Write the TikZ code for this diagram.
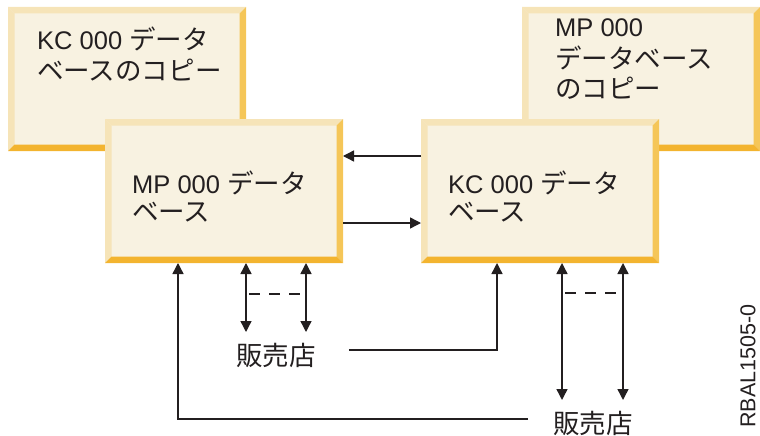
\documentclass[tikz,border=0pt]{standalone}
\usepackage{fontspec}
\setmainfont{Liberation Sans}
\newfontfamily\jpfont[Scale=1.04]{Noto Sans CJK JP}
\usetikzlibrary{arrows.meta,calc}
\definecolor{boxfill}{HTML}{F8F2E1}
\definecolor{bevlight}{HTML}{F6E4B8}
\definecolor{bevright}{HTML}{F5C658}
\definecolor{bevbottom}{HTML}{F3B42F}
\definecolor{ink}{HTML}{231F20}
\newcommand\myfs{\fontsize{25.5}{28.5}\selectfont}
\newcommand\bvw{6.5pt}
\tikzset{
  dbbox/.style={rectangle, inner sep=0pt, outer sep=0pt, anchor=north west,
    fill=boxfill, minimum width=238pt, minimum height=144pt,
    path picture={
      \fill[bevlight] (path picture bounding box.north west) -- (path picture bounding box.north east)
        -- ([shift={(-\bvw,-\bvw)}]path picture bounding box.north east)
        -- ([shift={(\bvw,-\bvw)}]path picture bounding box.north west) -- cycle;
      \fill[bevlight] (path picture bounding box.north west) -- (path picture bounding box.south west)
        -- ([shift={(\bvw,\bvw)}]path picture bounding box.south west)
        -- ([shift={(\bvw,-\bvw)}]path picture bounding box.north west) -- cycle;
      \fill[bevright] (path picture bounding box.north east) -- (path picture bounding box.south east)
        -- ([shift={(-\bvw,\bvw)}]path picture bounding box.south east)
        -- ([shift={(-\bvw,-\bvw)}]path picture bounding box.north east) -- cycle;
      \fill[bevbottom] (path picture bounding box.south west) -- (path picture bounding box.south east)
        -- ([shift={(-\bvw,\bvw)}]path picture bounding box.south east)
        -- ([shift={(\bvw,\bvw)}]path picture bounding box.south west) -- cycle;
    }},
  boxtext/.style={font=\myfs, inner sep=0pt, anchor=base west, text=ink},
  shoptext/.style={font=\myfs\jpfont, inner sep=0pt, text=ink},
  arr/.style={draw=ink, line width=1.4pt, -{Triangle[length=11pt,width=11pt]}},
  darr/.style={draw=ink, line width=1.4pt, {Triangle[length=11pt,width=11pt]}-{Triangle[length=11pt,width=11pt]}},
  dsh/.style={draw=ink, line width=1.4pt, dash pattern=on 10.5pt off 9.5pt},
}
\begin{document}
\begin{tikzpicture}[x=1pt,y=-1pt]
\useasboundingbox (0,0) rectangle (760,436);
% boxes
\node[dbbox] (b1) at (8,7) {};
\node[boxtext] (t1) at (37,50) {\begin{tabular}[t]{@{}l@{}}KC 000 {\jpfont データ}\\{\jpfont ベースのコピー}\end{tabular}};
\node[dbbox] (b2) at (522,7) {};
\node[boxtext] (t2) at (555,37) {\begin{tabular}[t]{@{}l@{}}MP 000\\{\jpfont データベース}\\{\jpfont のコピー}\end{tabular}};
\node[dbbox] (b3) at (105,119) {};
\node[boxtext] (t3) at (132,193) {\begin{tabular}[t]{@{}l@{}}MP 000 {\jpfont データ}\\{\jpfont ベース}\end{tabular}};
\node[dbbox] (b4) at (421,119) {};
\node[boxtext] (t4) at (448,193) {\begin{tabular}[t]{@{}l@{}}KC 000 {\jpfont データ}\\{\jpfont ベース}\end{tabular}};
% labels
\node[shoptext] (s1) at (276,355) {販売店};
\node[shoptext] (s2) at (593,423) {販売店};
\node[rotate=90, font=\fontsize{21.5}{26}\selectfont, inner sep=0pt, text=ink] (rb) at (748,366) {RBAL1505-0};
% replication arrows
\draw[arr] ([yshift=35pt]b4.west) -- ([yshift=35pt]b3.east);
\draw[arr] ([yshift=-32pt]b3.east) -- ([yshift=-32pt]b4.west);
% store connections
\coordinate (e1) at (246,332);
\coordinate (e2) at (306,332);
\coordinate (e3) at (562,400);
\coordinate (e4) at (623,400);
\draw[darr] ([xshift=141pt]b3.south west) -- (e1);
\draw[darr] ([xshift=201pt]b3.south west) -- (e2);
\draw[darr] ([xshift=141pt]b4.south west) -- (e3);
\draw[darr] ([xshift=202pt]b4.south west) -- (e4);
\coordinate (d1) at (249,294);
\coordinate (d2) at (305,294);
\coordinate (d3) at (565,293);
\coordinate (d4) at (621,293);
\draw[dsh] (d1) -- (d2);
\draw[dsh] (d3) -- (d4);
\draw[arr] ([shift={(33pt,5pt)}]s1.east) -| ([xshift=76pt]b4.south west);
\draw[arr] ([shift={(-25pt,4pt)}]s2.west) -| ([xshift=73pt]b3.south west);
\end{tikzpicture}
\end{document}
